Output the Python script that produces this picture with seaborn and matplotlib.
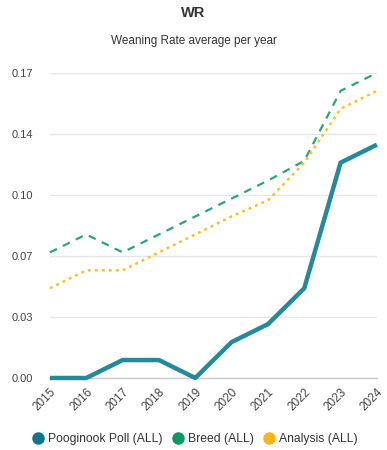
import pandas as pd
import matplotlib.pyplot as plt
import seaborn as sns
from matplotlib.lines import Line2D

years = [2015, 2016, 2017, 2018, 2019, 2020, 2021, 2022, 2023, 2024]
pooginook = [0.0, 0.0, 0.010, 0.010, 0.0, 0.020, 0.030, 0.050, 0.120, 0.130]
breed = [0.070, 0.080, 0.070, 0.080, 0.090, 0.100, 0.110, 0.121, 0.160, 0.170]
analysis = [0.050, 0.060, 0.060, 0.070, 0.080, 0.090, 0.099, 0.120, 0.150, 0.160]
y_ticks = [0.0, 0.034, 0.068, 0.102, 0.136, 0.17]

df = pd.DataFrame({
    "Year": years,
    "Pooginook Poll (ALL)": pooginook,
    "Breed (ALL)": breed,
    "Analysis (ALL)": analysis,
})

sns.set_style("white")
plt.rcParams["font.family"] = ["Liberation Sans", "DejaVu Sans"]

fig = plt.figure(figsize=(3.87, 4.5), dpi=100)
ax = fig.add_axes([0.129, 0.16, 0.845, 0.678])

# Breed (dashed green)
sns.lineplot(data=df, x="Year", y="Breed (ALL)", ax=ax, color="#2aa77a",
             linewidth=1.6, clip_on=False, zorder=3)
ax.lines[-1].set_dashes((3.5, 3))

# Analysis (dotted yellow)
sns.lineplot(data=df, x="Year", y="Analysis (ALL)", ax=ax, color="#fcc02e",
             linewidth=1.8, clip_on=False, zorder=3)
ax.lines[-1].set_dashes((1.2, 1.6))

# Pooginook (solid teal)
sns.lineplot(data=df, x="Year", y="Pooginook Poll (ALL)", ax=ax, color="#23899d",
             linewidth=3.2, clip_on=False, solid_capstyle="butt", zorder=4)

ax.set_xlim(2015, 2024)
ax.set_ylim(0, 0.17)
ax.set_yticks(y_ticks)
ax.set_yticklabels([f"{v:.2f}" for v in y_ticks])
ax.set_xticks(years)
ax.set_xticklabels([str(y) for y in years], rotation=45, ha="right",
                   rotation_mode="anchor")
ax.tick_params(axis="y", labelsize=8, colors="#444444", length=0, pad=12)
ax.tick_params(axis="x", labelsize=8.5, colors="#444444", length=4,
               color="#cccccc", width=0.8, pad=2)
ax.set_xlabel("")
ax.set_ylabel("")

ax.grid(axis="y", color="#e6e6e6", linewidth=1)
ax.set_axisbelow(True)
for s in ["top", "right", "left"]:
    ax.spines[s].set_visible(False)
ax.spines["bottom"].set_color("#cccccc")
ax.spines["bottom"].set_linewidth(1)

fig.text(0.5, 0.972, "WR", ha="center", va="center", fontsize=10.5,
         fontweight="bold", color="#333333")
fig.text(0.5, 0.909, "Weaning Rate average per year", ha="center",
         va="center", fontsize=8.5, color="#333333")

handles = [
    Line2D([], [], marker="o", linestyle="", markersize=8, color="#0f7591"),
    Line2D([], [], marker="o", linestyle="", markersize=8, color="#0b9a62"),
    Line2D([], [], marker="o", linestyle="", markersize=8, color="#fbb51a"),
]
fig.legend(handles, ["Pooginook Poll (ALL)", "Breed (ALL)", "Analysis (ALL)"],
           loc="center", bbox_to_anchor=(0.5, 0.025), ncol=3, frameon=False,
           fontsize=8.7, handletextpad=0.05, handlelength=1.5,
           columnspacing=0.55, labelcolor="#333333")

fig.savefig("out.png", dpi=100)
